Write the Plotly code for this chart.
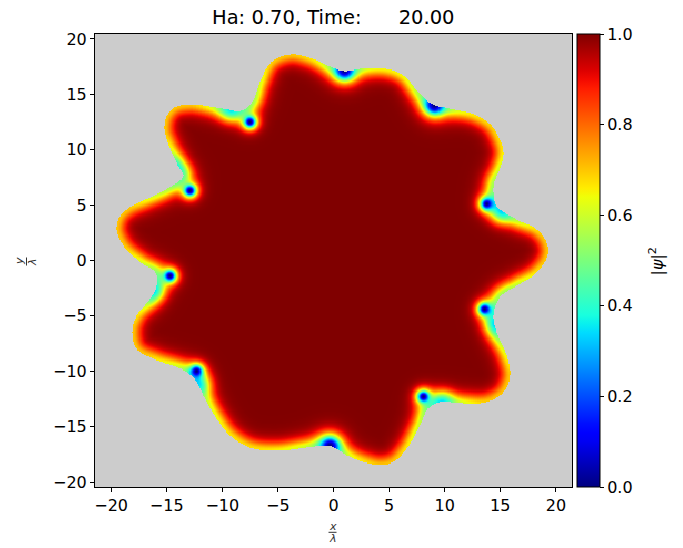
import numpy as np
import plotly.graph_objects as go

# ---------------- data ----------------
# sample boundary (x/lambda, y/lambda), counter-clockwise
boundary_x = [19.3, 19.2, 18.3, 16.5, 14.7, 14.4, 14.5, 15.0, 15.3, 14.8, 14.1, 12.6, 10.5, 8.9, 7.8, 6.3,
              4.8, 2.7, 1.0, -0.3, -2.1, -3.9, -5.6, -6.6, -7.3, -8.3, -9.9, -12.9, -14.3, -15.0,
              -15.2, -14.8, -14.0, -13.5, -15.0, -16.8, -18.3, -19.2, -19.5, -18.8, -17.3, -16.0, -15.9,
              -16.5, -17.7, -18.1, -17.7, -15.9, -13.5, -12.4, -11.7, -10.5, -9.3, -7.5, -5.1, -2.4, -0.3,
              1.2, 2.7, 4.2, 5.4, 6.6, 7.8, 8.5, 9.6, 11.7, 13.8, 15.3, 15.9, 15.6, 14.7, 14.4, 15.0, 16.5,
              18.3]
boundary_y = [0.5, 1.6, 2.8, 3.7, 4.9, 6.2, 7.1, 8.3, 9.8, 11.3, 12.3, 13.2, 13.7, 14.1, 15.0, 16.7,
              17.3, 17.35, 17.1, 17.5, 18.3, 18.6, 17.9, 16.1, 14.3, 13.5, 13.7, 14.1, 13.8, 13.0,
              11.9, 10.4, 8.6, 7.6, 6.45, 5.55, 4.8, 4.0, 2.8, 1.2, -0.2, -1.1, -2.3,
              -3.5, -5.0, -6.5, -8.0, -9.0, -9.9, -10.8, -12.2, -14.3, -15.8, -16.9, -17.2, -16.9, -16.75,
              -17.6, -18.2, -18.5, -18.2, -17.0, -14.9, -13.4, -12.8, -12.9, -12.8, -11.9, -10.4, -8.6,
              -6.5, -5.0, -3.3, -2.3, -1.1]
# vortex cores inside the sample
vortex_x = [-7.5, -12.9, -14.7, -12.3, 8.1, 13.6, 13.8]
vortex_y = [12.5, 6.3, -1.4, -10.0, -12.3, -4.4, 5.1]
# vortices entering at the edge (blue edge spots)
entry_x = [1.0, 9.1, -0.3]
entry_y = [17.15, 14.0, -16.75]
# weakened edge spots (cyan)
weak_x = [-9.3, -14.3, -16.2, -12.0, 9.8, 14.6, 15.1]
weak_y = [13.5, 8.3, -2.8, -11.2, -12.8, -5.8, 4.3]

x_ticks = [-20, -15, -10, -5, 0, 5, 10, 15, 20]
y_ticks = [-20, -15, -10, -5, 0, 5, 10, 15, 20]
cbar_ticks = [0.0, 0.2, 0.4, 0.6, 0.8, 1.0]
title_text = "Ha: 0.70, Time:" + "\u00a0" * 6 + "20.00"

# ---------------- smooth closed boundary (centripetal Catmull-Rom) ----------------
P = np.column_stack([boundary_x, boundary_y]).astype(float)
n = len(P)
pieces = []
for i in range(n):
    p0, p1, p2, p3 = P[(i - 1) % n], P[i], P[(i + 1) % n], P[(i + 2) % n]
    t0 = 0.0
    t1 = t0 + np.linalg.norm(p1 - p0) ** 0.5
    t2 = t1 + np.linalg.norm(p2 - p1) ** 0.5
    t3 = t2 + np.linalg.norm(p3 - p2) ** 0.5
    t = np.linspace(t1, t2, 10, endpoint=False)[:, None]
    A1 = (t1 - t) / (t1 - t0) * p0 + (t - t0) / (t1 - t0) * p1
    A2 = (t2 - t) / (t2 - t1) * p1 + (t - t1) / (t2 - t1) * p2
    A3 = (t3 - t) / (t3 - t2) * p2 + (t - t2) / (t3 - t2) * p3
    B1 = (t2 - t) / (t2 - t0) * A1 + (t - t0) / (t2 - t0) * A2
    B2 = (t3 - t) / (t3 - t1) * A2 + (t - t1) / (t3 - t1) * A3
    pieces.append((t2 - t) / (t2 - t1) * B1 + (t - t1) / (t2 - t1) * B2)
curve = np.vstack(pieces)

# ---------------- grid and field ----------------
xs = np.arange(-215, 216) / 10.0
ys = np.arange(-205, 206) / 10.0
X, Y = np.meshgrid(xs, ys)

xa, ya = curve[:, 0], curve[:, 1]
xb, yb = np.roll(xa, -1), np.roll(ya, -1)
inside = np.zeros(X.shape, dtype=bool)
dmin = np.full(X.shape, np.inf)
nr = np.zeros(X.shape)
for j in range(len(xa)):
    ax_, ay_, bx_, by_ = xa[j], ya[j], xb[j], yb[j]
    if ay_ != by_:
        cross = ((ay_ > Y) != (by_ > Y)) & (X < (bx_ - ax_) * (Y - ay_) / (by_ - ay_) + ax_)
        inside ^= cross
    dx, dy = bx_ - ax_, by_ - ay_
    L2 = dx * dx + dy * dy
    tt = np.clip(((X - ax_) * dx + (Y - ay_) * dy) / L2, 0, 1)
    d = np.hypot(X - (ax_ + tt * dx), Y - (ay_ + tt * dy))
    m = d < dmin
    dmin[m] = d[m]
    nr[m] = np.hypot((ax_ + bx_) / 2, (ay_ + by_) / 2)

edge = 0.55 + 0.15 * np.clip((nr - 16.0) / 3.0, 0, 1)
psi = edge + (1 - edge) * np.tanh(dmin / 0.8) ** 2
for vx, vy in zip(vortex_x, vortex_y):
    psi *= np.tanh(np.hypot(X - vx, Y - vy) / 0.58) ** 2
for ex, ey in zip(entry_x, entry_y):
    psi *= np.tanh(np.hypot(X - ex, Y - ey) / 0.85) ** 2
for wx, wy in zip(weak_x, weak_y):
    psi *= 1 - 0.38 * np.exp(-((X - wx) ** 2 + (Y - wy) ** 2) / 1.0)
psi = np.clip(psi, 0, 1)
psi[~inside] = np.nan
z = np.round(psi, 3)

# ---------------- jet colour scale ----------------
jet_r = ([0, 0.35, 0.66, 0.89, 1], [0, 0, 1, 1, 0.5])
jet_g = ([0, 0.125, 0.375, 0.64, 0.91, 1], [0, 0, 1, 1, 0, 0])
jet_b = ([0, 0.11, 0.34, 0.65, 1], [0.5, 1, 1, 0, 0])
stops = np.linspace(0, 1, 51)
jet = [[float(s), "rgb(%d,%d,%d)" % (round(255 * np.interp(s, *jet_r)),
                                     round(255 * np.interp(s, *jet_g)),
                                     round(255 * np.interp(s, *jet_b)))] for s in stops]

FONT = "DejaVu Sans"

fig = go.Figure(go.Heatmap(
    x=xs, y=ys, z=z, zmin=0, zmax=1, colorscale=jet, hoverinfo="skip",
    colorbar=dict(
        x=1.0105, xanchor="left", y=0.5, yanchor="middle", len=1, lenmode="fraction",
        thickness=23, thicknessmode="pixels", xpad=0, ypad=0,
        outlinewidth=1, outlinecolor="black",
        tickvals=cbar_ticks, tickformat=".1f", ticks="outside", ticklen=4, tickwidth=1,
        tickcolor="black", tickfont=dict(family=FONT, size=16, color="black"),
    ),
))

axis_common = dict(
    showgrid=False, zeroline=False, showline=True, linecolor="black", linewidth=1,
    mirror=True, ticks="outside", ticklen=4, tickwidth=1, tickcolor="black",
    tickfont=dict(family=FONT, size=16, color="black"),
)
fig.update_xaxes(range=[-21.45, 21.45], tickvals=x_ticks, **axis_common)
fig.update_yaxes(range=[-20.45, 20.45], tickvals=y_ticks, **axis_common)

plot_w, plot_h = 477.0, 453.0
def px(xpix):
    return (xpix - 95.0) / plot_w
def py(ypix):
    return (487.0 - ypix) / plot_h

small = dict(family=FONT, size=11, color="#333333")
annotations = [
    dict(text=title_text, x=0.5, y=1, xref="paper", yref="paper", xanchor="center",
         yanchor="bottom", yshift=3, showarrow=False, font=dict(family=FONT, size=19.5, color="black")),
    dict(text="|<i>ψ</i>|<sup>2</sup>", x=px(657), y=py(261.5), xref="paper", yref="paper",
         textangle=-90, xanchor="center", yanchor="middle", showarrow=False,
         font=dict(family=FONT, size=16, color="black")),
    dict(text="<i>x</i>", x=px(332.5), y=py(526.5), xref="paper", yref="paper",
         xanchor="center", yanchor="middle", showarrow=False, font=small),
    dict(text="<i>λ</i>", x=px(332.5), y=py(538.5), xref="paper", yref="paper",
         xanchor="center", yanchor="middle", showarrow=False, font=small),
    dict(text="<i>y</i>", x=px(19.5), y=py(261.5), xref="paper", yref="paper", textangle=-90,
         xanchor="center", yanchor="middle", showarrow=False, font=small),
    dict(text="<i>λ</i>", x=px(32.5), y=py(261.5), xref="paper", yref="paper", textangle=-90,
         xanchor="center", yanchor="middle", showarrow=False, font=small),
]
shapes = [
    dict(type="line", xref="paper", yref="paper", x0=px(328.5), x1=px(336.5),
         y0=py(532.3), y1=py(532.3), line=dict(color="#333333", width=1)),
    dict(type="line", xref="paper", yref="paper", x0=px(26.5), x1=px(26.5),
         y0=py(257.5), y1=py(265.5), line=dict(color="#333333", width=1)),
]

fig.update_layout(
    width=683, height=548,
    margin=dict(l=95, r=111, t=34, b=61),
    paper_bgcolor="white", plot_bgcolor="#cccccc",
    font=dict(family=FONT, color="black"),
    annotations=annotations, shapes=shapes, showlegend=False,
)

fig.write_html("out.html", config={"displayModeBar": False},
               post_script="document.body.style.margin='0';document.body.style.padding='0';")
